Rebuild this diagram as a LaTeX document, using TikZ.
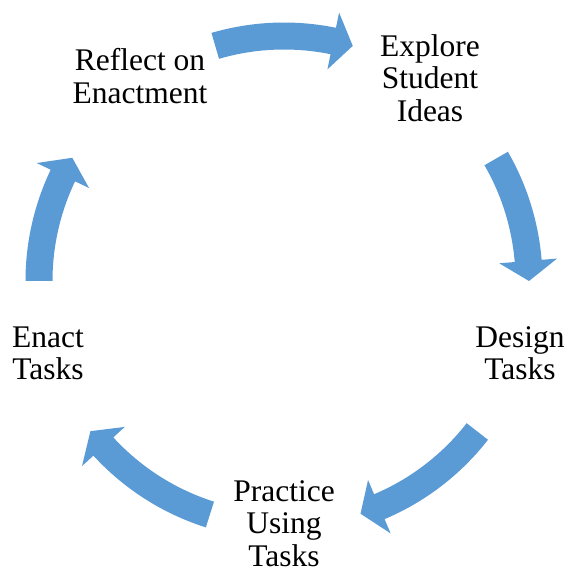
\documentclass[tikz,border=0pt]{standalone}
\usepackage{fontspec}
\setmainfont{Liberation Serif}
\definecolor{arrowblue}{HTML}{5B9BD5}
\tikzset{
  cyclearrow/.style={fill=arrowblue, draw=none},
  lbl/.style={font=\fontsize{31.5}{32.7}\selectfont, align=center, inner sep=0pt, anchor=base}
}
\newcommand\cycarrow[2]{%
  \fill[cyclearrow] ({#1}:258.5) arc[start angle={#1}, end angle={#2+4.7}, radius=258.5]
    -- ({#2+4.7}:274) -- ({#2}:245) -- ({#2+4.7}:216)
    -- ({#2+4.7}:231.5) arc[start angle={#2+4.7}, end angle={#1}, radius=231.5] -- cycle;}
\begin{document}
\begin{tikzpicture}[x=1pt,y=1pt]
\useasboundingbox (0,0) rectangle (568,571);
\coordinate (C) at (284,290);
\begin{scope}[shift={(C)}]
  \cycarrow{106.3}{73.7}
  \cycarrow{30}{0}
  \cycarrow{-37.9}{-71.8}
  \cycarrow{252.4}{217.8}
  \cycarrow{180}{149.8}
\end{scope}
\node[lbl] (reflect) at (140,{571-103.3}) {Reflect on\\Enactment};
\node[lbl] (explore) at (430,{571-121.7}) {Explore\\Student\\Ideas};
\node[lbl] (design) at (520,{571-380}) {Design\\Tasks};
\node[lbl] (practice) at (284,{571-566.7}) {Practice\\Using\\Tasks};
\node[lbl] (enact) at (48,{571-380}) {Enact\\Tasks};
\end{tikzpicture}
\end{document}
